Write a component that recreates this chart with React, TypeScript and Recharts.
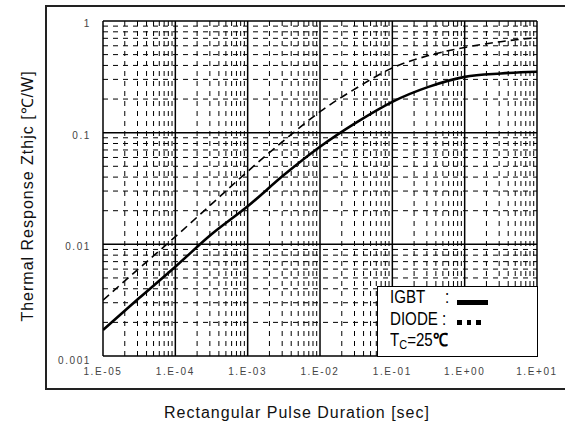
import {
  ComposedChart,
  Line,
  ReferenceLine,
  XAxis,
  YAxis,
} from "recharts";

// pulse duration [sec]
const PULSE = [
  1e-5, 3.16e-5, 1e-4, 3.16e-4, 1e-3, 3.16e-3, 1e-2, 3.16e-2, 1e-1, 3.16e-1, 1,
  3.16, 10,
];
// thermal response Zthjc [C/W]
const IGBT = [
  0.00171, 0.0033, 0.0063, 0.0123, 0.0219, 0.0417, 0.0748, 0.123, 0.189, 0.257,
  0.316, 0.339, 0.351,
];
const DIODE = [
  0.00316, 0.0061, 0.0117, 0.0229, 0.045, 0.085, 0.154, 0.25, 0.38, 0.49, 0.58,
  0.653, 0.71,
];

const X_TICKS = [1e-5, 1e-4, 1e-3, 1e-2, 1e-1, 1, 10];
const X_LABELS = ["1.E-05", "1.E-04", "1.E-03", "1.E-02", "1.E-01", "1.E+00", "1.E+01"];
const Y_TICKS = [0.001, 0.01, 0.1, 1];
const Y_LABELS = ["0.001", "0.01", "0.1", "1"];
const MINOR = [2, 3, 4, 5, 6, 7, 8, 9];

const chartData = PULSE.map((t, i) => ({ t, igbt: IGBT[i], diode: DIODE[i] }));

const xMinor = X_TICKS.slice(0, -1).flatMap((d) => MINOR.map((m) => m * d));
const yMinor = Y_TICKS.slice(0, -1).flatMap((d) => MINOR.map((m) => m * d));

const tickFont = {
  fontFamily: "'Liberation Sans', Arial, sans-serif",
  fontSize: 10,
  letterSpacing: 1.6,
  fill: "#444",
};

function XTick({ x, y, payload }: any) {
  const i = X_TICKS.indexOf(payload.value);
  return (
    <text x={x} y={y + 11} textAnchor="middle" {...tickFont}>
      {X_LABELS[i]}
    </text>
  );
}

function YTick({ x, y, payload }: any) {
  const i = Y_TICKS.indexOf(payload.value);
  return (
    <text x={x} y={y + (i === 0 ? 8 : 6)} textAnchor="end" {...tickFont}>
      {Y_LABELS[i]}
    </text>
  );
}

const labelFont = "'Liberation Sans', Arial, sans-serif";

// legend text is a tall, condensed face
const narrow = {
  position: "absolute" as const,
  fontSize: 18,
  transform: "scaleX(0.84)",
  transformOrigin: "left center",
  whiteSpace: "nowrap" as const,
};

export default function App() {
  return (
    <div style={{ position: "absolute", left: 0, top: 0, width: 565, height: 430, background: "#fff" }}>
      <div
        style={{
          position: "absolute",
          left: 45,
          top: 5,
          width: 540,
          height: 381,
          border: "2px solid #222",
        }}
      />
      <div style={{ position: "absolute", left: 0, top: 0 }}>
        <ComposedChart
          width={565}
          height={430}
          data={chartData}
          margin={{ top: 21, right: 28, bottom: 44, left: 0 }}
        >
          <XAxis
            dataKey="t"
            type="number"
            scale="log"
            domain={[1e-5, 10]}
            ticks={X_TICKS}
            axisLine={false}
            tickLine={false}
            height={30}
            tick={<XTick />}
            allowDataOverflow
          />
          <YAxis
            type="number"
            scale="log"
            domain={[0.001, 1]}
            ticks={Y_TICKS}
            axisLine={false}
            tickLine={false}
            width={103}
            tick={<YTick />}
            tickMargin={6}
            allowDataOverflow
          />
          {xMinor.map((v) => (
            <ReferenceLine key={"xm" + v} x={v} stroke="#000" strokeWidth={1} strokeDasharray="5 5" />
          ))}
          {yMinor.map((v) => (
            <ReferenceLine key={"ym" + v} y={v} stroke="#000" strokeWidth={1} strokeDasharray="5 5" />
          ))}
          {X_TICKS.map((v) => (
            <ReferenceLine key={"xM" + v} x={v} stroke="#000" strokeWidth={1.5} />
          ))}
          {Y_TICKS.map((v) => (
            <ReferenceLine key={"yM" + v} y={v} stroke="#000" strokeWidth={1.5} />
          ))}
          <Line
            dataKey="diode"
            type="monotone"
            stroke="#000"
            strokeWidth={1.6}
            strokeDasharray="8 5"
            dot={false}
            isAnimationActive={false}
          />
          <Line
            dataKey="igbt"
            type="monotone"
            stroke="#000"
            strokeWidth={2.6}
            dot={false}
            isAnimationActive={false}
          />
        </ComposedChart>
      </div>
      <div
        style={{
          position: "absolute",
          left: 27,
          top: 196,
          transform: "translate(-50%, -50%) rotate(-90deg)",
          whiteSpace: "nowrap",
          fontFamily: labelFont,
          fontSize: 16,
          letterSpacing: 1,
          color: "#111",
        }}
      >
        Thermal Response Zthjc [℃/W]
      </div>
      <div
        style={{
          position: "absolute",
          left: 297,
          top: 404,
          transform: "translateX(-50%)",
          whiteSpace: "nowrap",
          fontFamily: labelFont,
          fontSize: 16,
          letterSpacing: 1,
          color: "#111",
        }}
      >
        Rectangular Pulse Duration [sec]
      </div>
      <div
        style={{
          position: "absolute",
          left: 377,
          top: 286,
          width: 159,
          height: 69,
          border: "1.5px solid #000",
          background: "#fff",
          fontFamily: labelFont,
          lineHeight: "21.5px",
          color: "#000",
        }}
      >
        <div style={{ ...narrow, left: 12, top: 0 }}>IGBT</div>
        <div style={{ ...narrow, left: 67, top: 0 }}>:</div>
        <div style={{ position: "absolute", left: 79, top: 13, width: 31, height: 4.5, background: "#000" }} />
        <div style={{ ...narrow, left: 12, top: 21.5 }}>DIODE :</div>
        {[0, 9.5, 19].map((dx) => (
          <div
            key={dx}
            style={{ position: "absolute", left: 79 + dx, top: 33, width: 4.5, height: 4.5, background: "#000" }}
          />
        ))}
        <div style={{ ...narrow, left: 12, top: 43 }}>
          T<sub style={{ fontSize: 13, verticalAlign: "-3px" }}>C</sub>=25<b>℃</b>
        </div>
      </div>
    </div>
  );
}
